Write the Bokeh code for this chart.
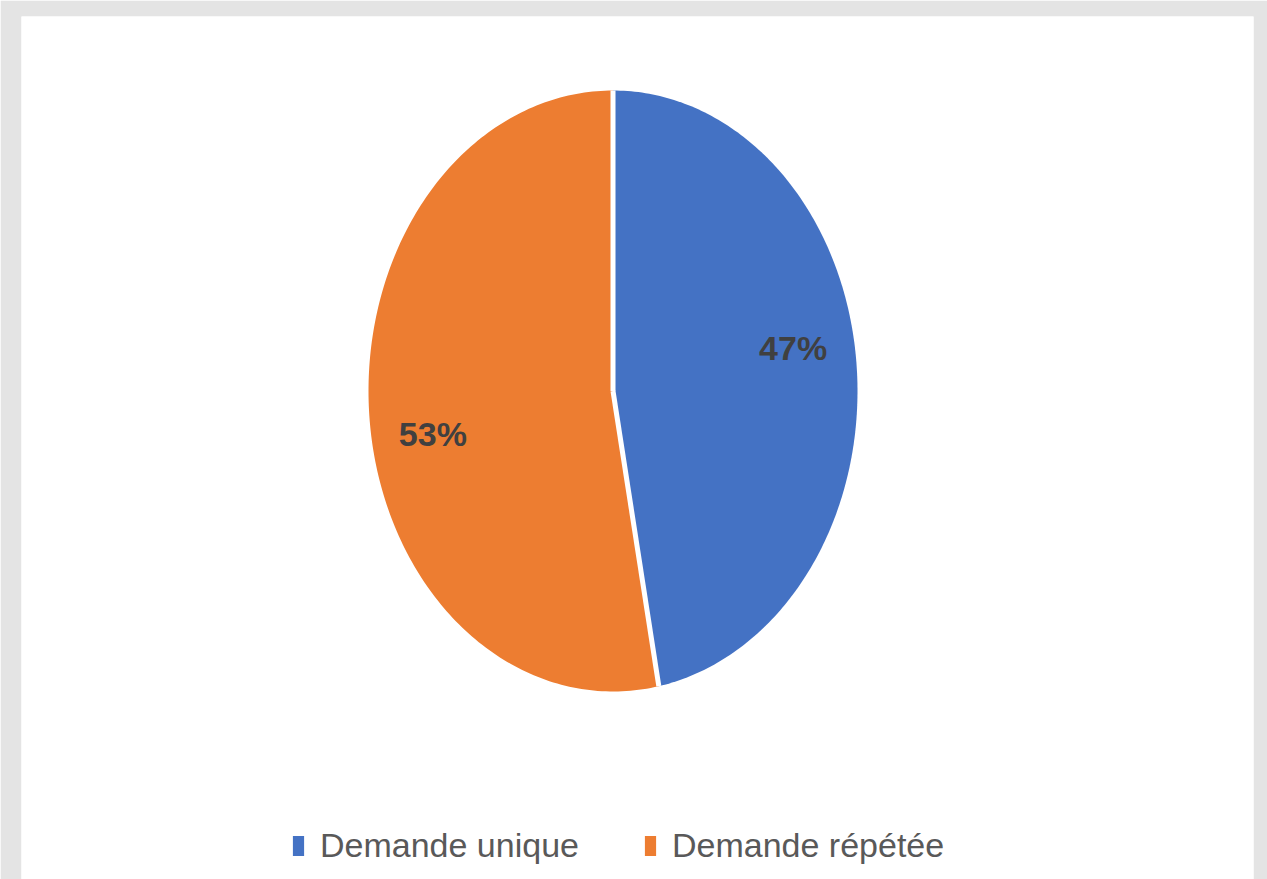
import numpy as np
from bokeh.plotting import figure
from bokeh.models import Range1d, ColumnDataSource
from bokeh.embed import file_html
from bokeh.resources import INLINE
from bokeh.core.properties import value

categories = ["Demande unique", "Demande répétée"]
shares = [47, 53]
colors = ["#4472C4", "#ED7D31"]
labels = ["47%", "53%"]

FW, FH = 1232, 863          # plot frame (white panel) size in px
CX, CY = 591.5, 488.5       # pie centre
RX, RY = 244.5, 300.5       # pie radii (stretched ellipse)
LABEL_R = 0.74
LABEL_DY = [22, -22]

p = figure(width=1267, height=879, x_range=Range1d(0, FW), y_range=Range1d(0, FH),
           output_backend="svg", toolbar_location=None,
           min_border_left=21, min_border_right=14, min_border_top=16, min_border_bottom=0,
           background_fill_color="white", border_fill_color="#e4e4e4",
           outline_line_color=None)
p.axis.visible = False
p.grid.visible = False

total = float(sum(shares))
fr = np.cumsum([0] + shares) / total
starts = fr[:-1] * 2 * np.pi
ends = fr[1:] * 2 * np.pi

xs, ys, lx, ly = [], [], [], []
for i, (a0, a1) in enumerate(zip(starts, ends)):
    t = np.linspace(a0, a1, 200)
    xs.append([CX] + list(CX + RX * np.sin(t)) + [CX])
    ys.append([CY] + list(CY + RY * np.cos(t)) + [CY])
    m = (a0 + a1) / 2
    lx.append(CX + LABEL_R * RX * np.sin(m))
    ly.append(CY + LABEL_R * RY * np.cos(m) + LABEL_DY[i])

src = ColumnDataSource(dict(xs=xs, ys=ys, color=colors, category=categories))
p.patches("xs", "ys", source=src, fill_color="color", line_color=None, legend_field="category")

# white separators between slices
p.segment(x0=[CX] * len(starts), y0=[CY] * len(starts),
          x1=list(CX + RX * np.sin(starts)), y1=list(CY + RY * np.cos(starts)),
          line_color="white", line_width=5)

lsrc = ColumnDataSource(dict(x=lx, y=ly, t=labels))
p.text("x", "y", text="t", source=lsrc, text_align="center", text_baseline="middle",
       text_font=value("Liberation Sans"),
       text_font_style="bold", text_font_size="34px", text_color="#404040")

lg = p.legend[0]
lg.orientation = "horizontal"
lg.location = (270, 14)
lg.padding = 0
lg.margin = 0
lg.spacing = 64
lg.border_line_color = None
lg.background_fill_alpha = 0
lg.glyph_width = 14
lg.glyph_height = 25
lg.label_height = 25
lg.label_standoff = 15
lg.label_text_font = "Liberation Sans"
lg.label_text_font_size = "34px"
lg.label_text_color = "#595959"

html = file_html(p, INLINE)
html = html.replace("<body>", '<body style="margin:0;background:#e4e4e4;">', 1)
open("out.html", "w").write(html)
